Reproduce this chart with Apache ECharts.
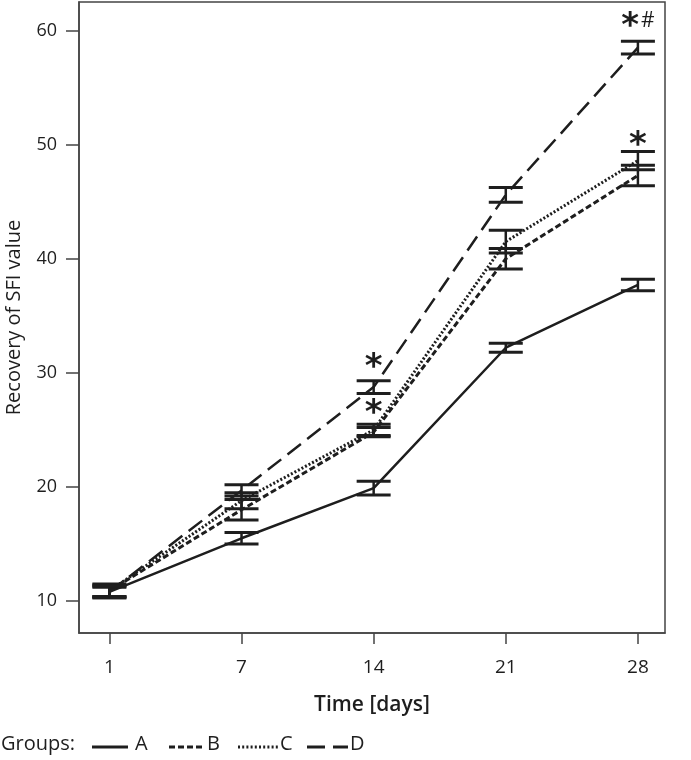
<!DOCTYPE html>
<html>
<head>
<meta charset="utf-8">
<script src="https://cdn.jsdelivr.net/npm/echarts@6/dist/echarts.min.js"></script>
<style>html,body{margin:0;padding:0;background:#fff}#c{width:691px;height:760px}</style>
</head>
<body>
<div id="c"></div>
<script>
const categories = ['1', '7', '14', '21', '28'];
const groupNames = ['A', 'B', 'C', 'D'];
const meanA = [10.8, 15.5, 19.9, 32.2, 37.7];
const errA  = [0.4, 0.5, 0.6, 0.4, 0.5];
const meanB = [10.9, 18.0, 24.8, 40.0, 47.3];
const errB  = [0.5, 0.9, 0.4, 0.9, 0.9];
const meanC = [10.9, 18.8, 25.0, 41.5, 48.6];
const errC  = [0.6, 0.7, 0.5, 1.0, 0.8];
const meanD = [10.8, 19.7, 28.75, 45.6, 58.5];
const errD  = [0.5, 0.5, 0.55, 0.65, 0.55];
const yTicks = [10, 20, 30, 40, 50, 60];
const annotX = [2, 2, 4, 4];
const annotY = [30.4, 26.4, 60.3, 49.9];
const annotText = ['*', '*', '*#', '*'];

const INK = '#1e1e1e';
const FONT = '"Open Sans", "DejaVu Sans", sans-serif';
const means = [meanA, meanB, meanC, meanD];
const errs = [errA, errB, errC, errD];
const dashes = [null, [6, 3], [2, 2], [17, 8]];
const widths = [2.5, 3, 3, 2.5];

const series = [];
groupNames.forEach((g, gi) => {
  series.push({
    name: g,
    type: 'line',
    data: means[gi].map((v, i) => [i, v]),
    symbol: 'none',
    lineStyle: { color: INK, width: widths[gi], type: dashes[gi] || 'solid' },
    z: 3
  });
  series.push({
    name: g + '_err',
    type: 'custom',
    data: means[gi].map((v, i) => [i, v - errs[gi][i], v + errs[gi][i]]),
    renderItem: function (params, api) {
      const x = api.value(0);
      const lo = api.coord([x, api.value(1)]);
      const hi = api.coord([x, api.value(2)]);
      const hw = 17;
      const st = { stroke: INK, lineWidth: 3 };
      return {
        type: 'group',
        children: [
          { type: 'line', shape: { x1: lo[0], y1: lo[1], x2: hi[0], y2: hi[1] }, style: { stroke: INK, lineWidth: 2.5 } },
          { type: 'line', shape: { x1: lo[0] - hw, y1: lo[1], x2: lo[0] + hw, y2: lo[1] }, style: st },
          { type: 'line', shape: { x1: hi[0] - hw, y1: hi[1], x2: hi[0] + hw, y2: hi[1] }, style: st }
        ]
      };
    },
    encode: { x: 0, y: [1, 2] },
    z: 4,
    silent: true
  });
});

series.push({
  name: 'annot',
  type: 'scatter',
  symbolSize: 0,
  itemStyle: { opacity: 1, color: INK },
  data: annotX.map((x, i) => [x, annotY[i]]),
  label: {
    show: true,
    position: 'inside',
    color: INK,
    formatter: p => annotText[p.dataIndex].split('').map(ch => ch === '*' ? '{s|*}' : '{h|#}').join(''),
    rich: {
      s: { fontSize: 34, fontFamily: 'DejaVu Sans', color: INK, fontWeight: 'bold' },
      h: { fontSize: 21, fontFamily: FONT, color: INK, verticalAlign: 'top', padding: [0, 0, 0, 2] }
    }
  },
  z: 5,
  silent: true
});

// legend drawn with graphic elements
const legendY = 747;
const legendItems = [
  { x1: 92, x2: 128, tx: 135, dash: null, w: 3 },
  { x1: 169, x2: 205, tx: 207, dash: [6, 3], w: 3 },
  { x1: 238, x2: 278, tx: 280, dash: [2, 2.2], w: 3 },
  { x1: 307, x2: 348, tx: 350, dash: [18, 8], w: 3 }
];
const graphic = [
  { type: 'text', left: 1, top: legendY - 13, style: { text: 'Groups:', fontSize: 20, fill: INK, fontFamily: FONT } }
];
legendItems.forEach((it, i) => {
  graphic.push({ type: 'line', shape: { x1: it.x1, y1: legendY, x2: it.x2, y2: legendY }, style: { stroke: INK, lineWidth: it.w, lineDash: it.dash || null } });
  graphic.push({ type: 'text', left: it.tx, top: legendY - 13, style: { text: groupNames[i], fontSize: 20, fill: INK, fontFamily: FONT } });
});

const chart = echarts.init(document.getElementById('c'));
chart.setOption({
  animation: false,
  backgroundColor: '#fff',
  grid: { left: 79, right: 26, top: 2, bottom: 127, outerBoundsMode: 'none', containLabel: false, show: true, borderColor: '#444', borderWidth: 1.5, backgroundColor: 'transparent' },
  xAxis: {
    type: 'value',
    min: -0.23,
    max: 4.205,
    name: 'Time [days]',
    nameLocation: 'middle',
    nameGap: 62,
    nameTextStyle: { fontSize: 21, fontWeight: 600, color: INK, fontFamily: FONT },
    axisLine: { show: true, onZero: false, lineStyle: { color: '#444', width: 1.5 } },
    axisTick: { show: true, length: 11, lineStyle: { color: '#444', width: 1.5 }, customValues: [0, 1, 2, 3, 4] },
    axisLabel: { customValues: [0, 1, 2, 3, 4], formatter: v => categories[Math.round(v)], fontSize: 19, color: INK, fontFamily: FONT, margin: 25 },
    splitLine: { show: false }
  },
  yAxis: {
    type: 'value',
    min: 7.2,
    max: 62.5,
    name: 'Recovery of SFI value',
    nameLocation: 'middle',
    nameGap: 55,
    nameTextStyle: { fontSize: 20, color: INK, fontFamily: FONT },
    axisLine: { show: true, onZero: false, lineStyle: { color: '#444', width: 1.5 } },
    axisTick: { show: true, length: 13, lineStyle: { color: '#444', width: 1.5 }, customValues: yTicks },
    axisLabel: { customValues: yTicks, fontSize: 18, color: INK, fontFamily: FONT, margin: 22 },
    splitLine: { show: false }
  },
  graphic: graphic,
  series: series
});
</script>
</body>
</html>
